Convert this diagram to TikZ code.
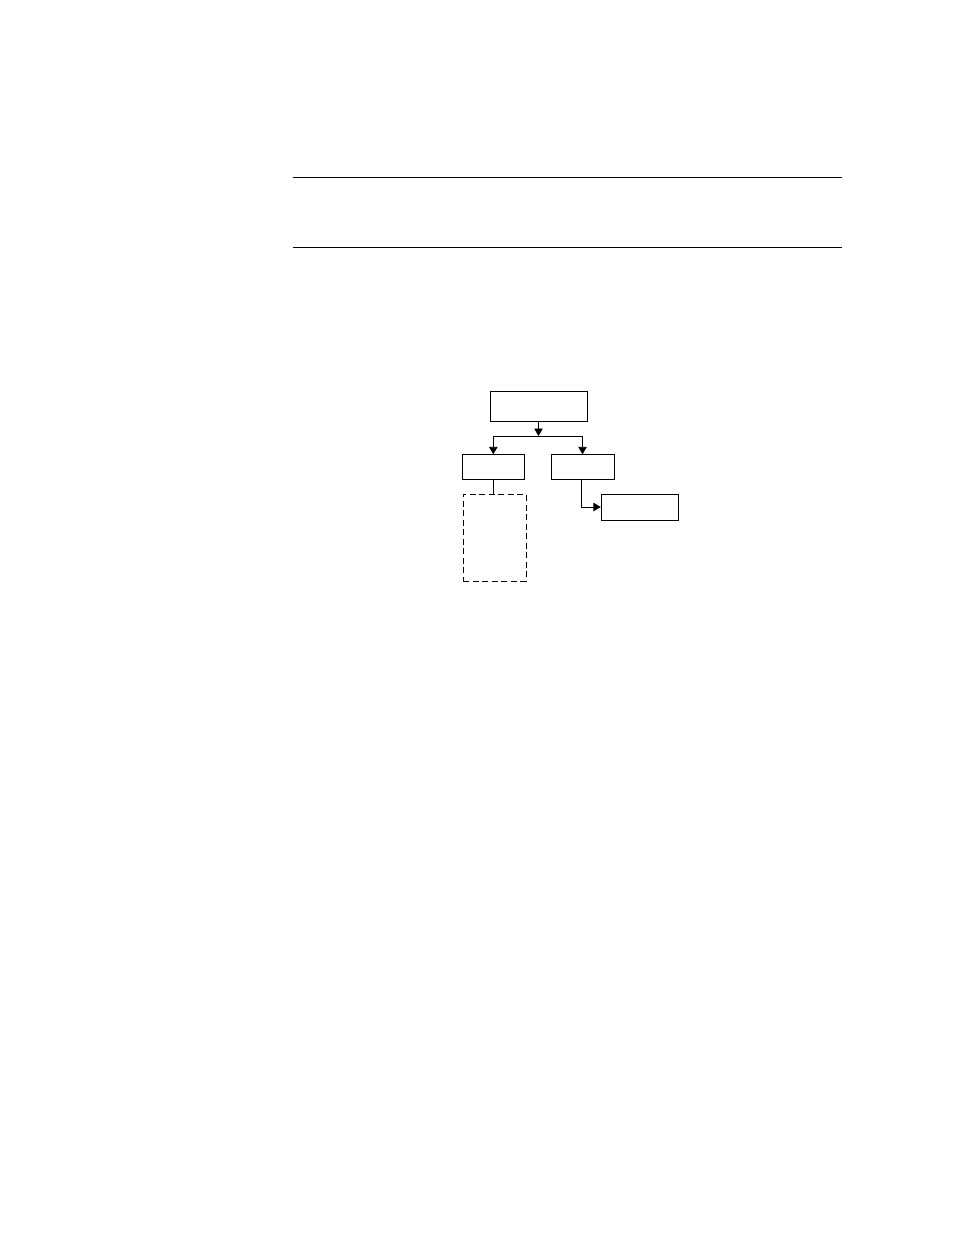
\documentclass[tikz,border=0pt]{standalone}
\usetikzlibrary{arrows.meta}
\begin{document}
\begin{tikzpicture}[x=1pt,y=-1pt,
  box/.style={draw,line width=0.9pt,minimum width=#1,inner sep=0pt},
  conn/.style={line width=0.9pt},
  arr/.style={conn,-{Triangle[length=7.5pt,width=8.5pt]}},
  dbox/.style={draw,line width=0.9pt,dash pattern=on 6pt off 3.5pt,inner sep=0pt}]
\useasboundingbox (0,0) rectangle (954,1235);
% rules
\coordinate (r1a) at (293,177.5);
\coordinate (r1b) at (842,177.5);
\coordinate (r2a) at (293,247.5);
\coordinate (r2b) at (842,247.5);
\draw[conn] (r1a) -- (r1b);
\draw[conn] (r2a) -- (r2b);
% boxes
\node[box=97pt,minimum height=30pt] (top) at (538.5,406) {};
\node[box=62.5pt,minimum height=24.5pt] (left) at (493.3,467) {};
\node[box=63pt,minimum height=24.5pt] (right) at (582.5,467) {};
\node[box=77.5pt,minimum height=26pt] (small) at (640,507) {};
\node[dbox,minimum width=62.5pt,minimum height=87pt] (dash) at (494.7,537.5) {};
% connectors
\coordinate (j) at (538.5,436);
\coordinate (jl) at (493.3,436);
\coordinate (jr) at (582.5,436);
\coordinate (bend) at (581.5,507);
\draw[arr] (top.south) -- (j);
\draw[conn] (jl) -- (jr);
\draw[arr] (jl) -- (left.north);
\draw[arr] (jr) -- (right.north);
\draw[conn] (left.south) -- (left.south |- dash.north);
\draw[arr] (right.south -| bend) -- (bend) -- (small.west);
\end{tikzpicture}
\end{document}
